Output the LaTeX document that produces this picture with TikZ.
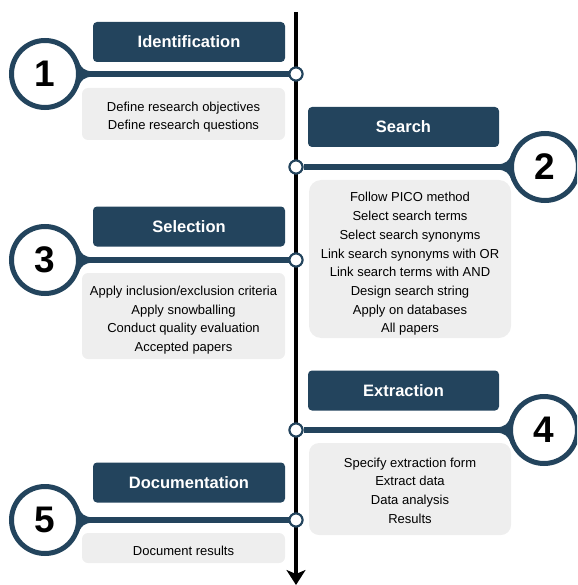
\documentclass[tikz,border=0pt]{standalone}
\usepackage{fontspec}
\setmainfont{Liberation Sans}
\usetikzlibrary{arrows.meta}
\definecolor{dkblue}{HTML}{23445D}
\definecolor{ltgray}{HTML}{EEEEEE}
\tikzset{
  titlebox/.style={fill=dkblue, rounded corners=4pt, minimum width=192pt, minimum height=40pt, inner sep=0pt, text=white, font=\bfseries\fontsize{16.5}{20}\selectfont},
  graybox/.style={fill=ltgray, rounded corners=6pt, inner sep=0pt},
  bodytext/.style={align=center, text=black, inner sep=0pt, font=\fontsize{13}{18.7}\selectfont},
  numcirc/.style={circle, draw=dkblue, line width=5pt, fill=white, minimum size=67pt, inner sep=0pt, font=\bfseries\fontsize{37}{40}\selectfont},
  junc/.style={circle, draw=dkblue, line width=2pt, fill=white, minimum size=13pt, inner sep=0pt},
  conn/.style={draw=dkblue, line width=5.5pt},
  axis/.style={line width=3.5pt, -{Stealth[length=15pt, width=19pt, inset=4pt]}},
  fillet/.pic={\fill[dkblue] (32.6,15.2) .. controls (36,6) and (39,2.75) .. (48,2.75) -- (48,-2.75) .. controls (39,-2.75) and (36,-6) .. (32.6,-15.2) -- cycle;}
}
\begin{document}
\begin{tikzpicture}[x=1pt, y=-1pt]
\useasboundingbox (0,0) rectangle (577,585);
\clip (0,0) rectangle (577,585);
% axis
\coordinate (top) at (296,12);
\coordinate (bot) at (296,585);
\draw[axis] (top) -- (bot);
% title boxes
\node[titlebox] (t1) at (189,42) {Identification};
\node[titlebox, minimum width=191pt] (t2) at (403.5,127) {Search};
\node[titlebox] (t3) at (189,226.5) {Selection};
\node[titlebox, minimum width=191pt] (t4) at (403.5,390.5) {Extraction};
\node[titlebox] (t5) at (189,482.5) {Documentation};
% gray boxes
\node[graybox, minimum width=203pt, minimum height=52pt] (g1) at (183.5,114) {};
\node[bodytext] (g1t) at (183.5,117) {Define research objectives\\Define research questions};
\node[graybox, rounded corners=12pt, minimum width=202pt, minimum height=158pt] (g2) at (410,259) {};
\node[bodytext] (g2t) at (410,264) {Follow PICO method\\Select search terms\\Select search synonyms\\Link search synonyms with OR\\Link search terms with AND\\Design search string\\Apply on databases\\All papers};
\node[graybox, minimum width=203pt, minimum height=86pt] (g3) at (183.5,316) {};
\node[bodytext] (g3t) at (183.5,320) {Apply inclusion/exclusion criteria\\Apply snowballing\\Conduct quality evaluation\\Accepted papers};
\node[graybox, rounded corners=10pt, minimum width=202pt, minimum height=92pt] (g4) at (410,489) {};
\node[bodytext] (g4t) at (410,490.5) {Specify extraction form\\Extract data\\Data analysis\\Results};
\node[graybox, minimum width=203pt, minimum height=30pt] (g5) at (183.5,548) {};
\node[bodytext] (g5t) at (183.5,551) {Document results};
% number circles and connectors
\coordinate (p1) at (45,74);
\coordinate (p2) at (545,167);
\coordinate (p3) at (45,260);
\coordinate (p4) at (544,430);
\coordinate (p5) at (45,520);
\node[junc] (j1) at (296,74) {};
\node[junc] (j2) at (296,167) {};
\node[junc] (j3) at (296,260) {};
\node[junc] (j4) at (296,430) {};
\node[junc] (j5) at (296,520) {};
\draw[conn] (p1) -- (j1);
\draw[conn] (p2) -- (j2);
\draw[conn] (p3) -- (j3);
\draw[conn] (p4) -- (j4);
\draw[conn] (p5) -- (j5);
\node[junc] at (j1) {};
\node[junc] at (j2) {};
\node[junc] at (j3) {};
\node[junc] at (j4) {};
\node[junc] at (j5) {};
\pic at (p1) {fillet};
\pic[xscale=-1] at (p2) {fillet};
\pic at (p3) {fillet};
\pic[xscale=-1] at (p4) {fillet};
\pic at (p5) {fillet};
\node[numcirc] (c1) at (p1) {1};
\node[numcirc] (c2) at (p2) {2};
\node[numcirc] (c3) at (p3) {3};
\node[numcirc] (c4) at (p4) {4};
\node[numcirc] (c5) at (p5) {5};
\end{tikzpicture}
\end{document}
